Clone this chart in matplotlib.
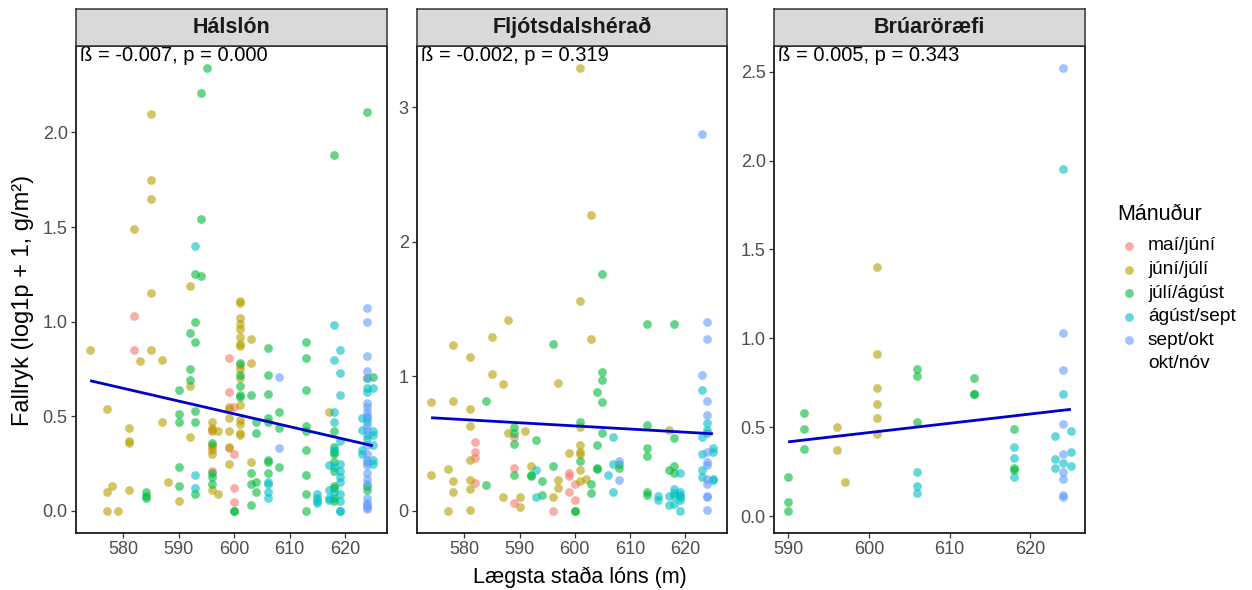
import matplotlib
matplotlib.use("Agg")
import matplotlib.pyplot as plt
import numpy as np

plt.rcParams['font.family'] = ['Liberation Sans', 'DejaVu Sans']

# ---------------- data ----------------
panels = ["Hálslón", "Fljótsdalshérað", "Brúaröræfi"]
months = ["maí/júní", "júní/júlí", "júlí/ágúst", "ágúst/sept", "sept/okt", "okt/nóv"]
month_colors = ["#F8766D", "#B79F00", "#00BA38", "#00BFC4", "#619CFF", "#F564E3"]
stat_labels = ["ß = -0.007, p = 0.000", "ß = -0.002, p = 0.319", "ß = 0.005, p = 0.343"]

# Hálslón: (x = lake level, y = value) per month
hals_0_x = [582, 582, 599, 599, 600, 599, 596, 596, 599, 600, 596, 600, 600]
hals_0_y = [1.03, 0.85, 0.81, 0.63, 0.55, 0.54, 0.42, 0.34, 0.33, 0.30, 0.21, 0.12, 0.045]
hals_1_x = [585, 585, 585, 582, 592, 585, 574, 585, 583, 587, 577, 587, 581, 581, 581, 578, 577, 581,
            577, 579, 588, 590, 592, 592, 596, 596, 596, 596, 596, 596, 596, 597, 597, 599, 599, 599,
            599, 599, 601, 601, 601, 601, 601, 601, 601, 601, 601, 601, 601, 601, 601, 601, 601, 601,
            603, 603, 603, 617]
hals_1_y = [2.10, 1.75, 1.65, 1.49, 1.19, 1.15, 0.85, 0.85, 0.79, 0.80, 0.54, 0.47, 0.44, 0.37, 0.36, 0.13, 0.10, 0.11,
            0.0, 0.0, 0.15, 0.05, 0.66, 0.39, 0.47, 0.44, 0.43, 0.35, 0.32, 0.30, 0.11, 0.09, 0.42, 0.55, 0.49, 0.42,
            0.34, 0.25, 1.11, 1.10, 1.02, 0.99, 0.96, 0.92, 0.88, 0.87, 0.77, 0.75, 0.70, 0.56, 0.48, 0.46, 0.41, 0.40,
            0.91, 0.78, 0.26, 0.52]
hals_2_x = [595, 594, 624, 618, 594, 593, 594, 584, 584, 584, 590, 590, 590, 590, 590, 592, 592, 592,
            593, 593, 593, 593, 593, 596, 596, 596, 596, 601, 601, 601, 601, 601, 600, 600,
            603, 603, 603, 603, 604, 604, 604, 604, 606, 606, 606, 606, 606, 606, 606, 606,
            608, 608, 608, 613, 613, 613, 613, 613, 613, 613, 613, 613,
            618, 618, 618, 618, 618, 618, 618, 618, 618, 618, 624, 624, 624, 625]
hals_2_y = [2.34, 2.21, 2.11, 1.88, 1.54, 1.25, 1.24, 0.10, 0.08, 0.07, 0.64, 0.51, 0.47, 0.23, 0.13, 0.94, 0.75, 0.69,
            1.00, 0.89, 0.53, 0.47, 0.09, 0.36, 0.20, 0.18, 0.14, 0.78, 0.72, 0.66, 0.61, 0.60, 0.0, 0.0,
            0.61, 0.20, 0.14, 0.03, 0.47, 0.41, 0.15, 0.10, 0.86, 0.72, 0.62, 0.49, 0.47, 0.27, 0.26, 0.20,
            0.52, 0.44, 0.23, 0.89, 0.81, 0.64, 0.45, 0.42, 0.32, 0.19, 0.09, 0.0,
            0.42, 0.34, 0.31, 0.30, 0.26, 0.21, 0.13, 0.12, 0.07, 0.05, 0.70, 0.13, 0.11, 0.71]
hals_3_x = [593, 593, 593, 606, 606, 606, 606, 615, 615, 615, 615, 617, 617, 617, 617,
            618, 618, 618, 618, 618, 618, 618, 619, 619, 619, 619, 619, 619, 619, 619, 619, 619, 619, 619,
            623, 623, 623, 623, 624, 624, 624, 624, 624, 624, 624, 625, 625, 625, 625, 625, 625]
hals_3_y = [1.40, 0.19, 0.12, 0.15, 0.14, 0.10, 0.07, 0.09, 0.07, 0.05, 0.04, 0.24, 0.11, 0.07, 0.06,
            0.98, 0.80, 0.52, 0.47, 0.32, 0.23, 0.10, 0.85, 0.73, 0.61, 0.37, 0.25, 0.21, 0.18, 0.15, 0.09, 0.05, 0.0, 0.0,
            0.49, 0.43, 0.32, 0.30, 0.65, 0.63, 0.49, 0.47, 0.40, 0.38, 0.26, 0.65, 0.42, 0.40, 0.35, 0.27, 0.25]
hals_4_x = [608, 608] + [624] * 23
hals_4_y = [0.71, 0.33, 1.07, 1.00, 0.82, 0.74, 0.70, 0.57, 0.55, 0.52, 0.50, 0.45, 0.42, 0.35, 0.30, 0.27,
            0.24, 0.20, 0.17, 0.14, 0.07, 0.04, 0.03, 0.02, 0.01]

# Fljótsdalshérað
flj_0_x = [582, 582, 582, 582, 589, 589, 589, 596, 599, 599, 599, 600, 600]
flj_0_y = [0.51, 0.44, 0.39, 0.21, 0.55, 0.32, 0.06, 0.0, 0.28, 0.26, 0.14, 0.20, 0.08]
flj_1_x = [601, 603, 601, 588, 585, 603, 578, 581, 585, 587, 597, 574, 578, 581, 581, 601, 617, 588, 591,
           581, 601, 601, 601, 601, 601, 602, 599, 574, 577, 578, 578, 581, 581, 581, 577, 590, 590, 587,
           592, 596, 597, 597]
flj_1_y = [3.29, 2.20, 1.56, 1.42, 1.29, 1.28, 1.23, 1.14, 1.02, 0.94, 0.95, 0.81, 0.82, 0.76, 0.63, 0.62, 0.60, 0.58, 0.59,
           0.38, 0.49, 0.44, 0.42, 0.30, 0.22, 0.24, 0.43, 0.27, 0.31, 0.22, 0.14, 0.23, 0.16, 0.01, 0.0, 0.10, 0.03, 0.10,
           0.33, 0.10, 0.23, 0.17]
flj_2_x = [605, 613, 618, 596, 605, 605, 604, 605, 584, 601, 613, 589, 589, 589, 605, 604, 618, 601, 593,
           592, 592, 589, 584, 594, 594, 596, 600, 600, 604, 604, 603, 603, 608, 608, 613, 613, 613, 613,
           617, 618, 618, 624]
flj_2_y = [1.76, 1.39, 1.39, 1.24, 1.03, 0.97, 0.88, 0.81, 0.82, 0.66, 0.64, 0.62, 0.58, 0.50, 0.58, 0.49, 0.54, 0.37, 0.53,
           0.26, 0.27, 0.27, 0.19, 0.22, 0.12, 0.33, 0.0, 0.0, 0.32, 0.31, 0.20, 0.13, 0.35, 0.32, 0.47, 0.41, 0.14, 0.12,
           0.30, 0.33, 0.28, 0.58]
flj_3_x = [623, 624, 607, 593, 593, 606, 607, 607, 615, 615, 617, 617,
           619, 618, 619, 618, 619, 618, 619, 619, 618, 619,
           623, 623, 623, 623, 625, 625, 625, 625, 624]
flj_3_y = [0.90, 0.65, 0.55, 0.30, 0.10, 0.27, 0.35, 0.14, 0.11, 0.08, 0.11, 0.04,
           0.28, 0.16, 0.14, 0.13, 0.12, 0.11, 0.10, 0.08, 0.05, 0.0,
           0.55, 0.42, 0.30, 0.25, 0.47, 0.44, 0.24, 0.23, 0.60]
flj_4_x = [623, 624, 624, 623, 624, 624, 608, 608, 624, 624, 624, 624, 624, 624, 624, 624]
flj_4_y = [2.80, 1.40, 1.28, 1.01, 0.82, 0.71, 0.37, 0.23, 0.44, 0.36, 0.34, 0.24, 0.20, 0.11, 0.10, 0.01]

# Brúaröræfi
bru_0_x, bru_0_y = [], []
bru_1_x = [601, 601, 601, 601, 601, 601, 596, 596, 597]
bru_1_y = [1.40, 0.91, 0.72, 0.63, 0.55, 0.46, 0.50, 0.37, 0.19]
bru_2_x = [590, 590, 590, 592, 592, 592, 606, 606, 606, 613, 613, 613, 618, 618, 618]
bru_2_y = [0.22, 0.08, 0.03, 0.58, 0.49, 0.38, 0.83, 0.79, 0.53, 0.78, 0.69, 0.69, 0.49, 0.27, 0.26]
bru_3_x = [606, 606, 606, 618, 618, 618, 624, 624, 623, 623, 623, 625, 625, 625, 624]
bru_3_y = [0.25, 0.17, 0.13, 0.39, 0.33, 0.22, 1.95, 0.69, 0.45, 0.32, 0.27, 0.48, 0.36, 0.28, 0.30]
bru_4_x = [624, 624, 624, 624, 624, 624, 624, 624, 624]
bru_4_y = [2.52, 1.03, 0.82, 0.52, 0.35, 0.25, 0.21, 0.12, 0.11]

panel_data = [
    [(hals_0_x, hals_0_y), (hals_1_x, hals_1_y), (hals_2_x, hals_2_y), (hals_3_x, hals_3_y), (hals_4_x, hals_4_y)],
    [(flj_0_x, flj_0_y), (flj_1_x, flj_1_y), (flj_2_x, flj_2_y), (flj_3_x, flj_3_y), (flj_4_x, flj_4_y)],
    [(bru_0_x, bru_0_y), (bru_1_x, bru_1_y), (bru_2_x, bru_2_y), (bru_3_x, bru_3_y), (bru_4_x, bru_4_y)],
]

# regression line endpoints (x, fitted y)
fit_x = [[574, 625], [574, 625], [590, 625]]
fit_y = [[0.688, 0.344], [0.692, 0.573], [0.418, 0.601]]

y_ticks = [[0.0, 0.5, 1.0, 1.5, 2.0], [0, 1, 2, 3], [0.0, 0.5, 1.0, 1.5, 2.0, 2.5]]
y_ticklabels = [["0.0", "0.5", "1.0", "1.5", "2.0"], ["0", "1", "2", "3"],
                ["0.0", "0.5", "1.0", "1.5", "2.0", "2.5"]]
x_ticks = [[580, 590, 600, 610, 620], [580, 590, 600, 610, 620], [590, 600, 610, 620]]

x_label = "Lægsta staða lóns (m)"
y_label = "Fallryk (log1p + 1, g/m²)"
legend_title = "Mánuður"

# ---------------- layout ----------------
W, H = 1252, 590
fig = plt.figure(figsize=(W / 100, H / 100), dpi=100)


def fr(l, t, r, b):
    return [l / W, 1 - b / H, (r - l) / W, (b - t) / H]


lefts = [76, 417, 774]
rights = [387, 727, 1085]
top, bottom = 46, 533
strip_top = 9

for i in range(3):
    ax = fig.add_axes(fr(lefts[i], top, rights[i], bottom))
    allx, ally = [], []
    for m, (xs, ys) in enumerate(panel_data[i]):
        if len(xs):
            ax.scatter(xs, ys, s=40, color=month_colors[m], alpha=0.6, linewidths=0, zorder=2)
            allx += list(xs)
            ally += list(ys)
    ax.plot(fit_x[i], fit_y[i], color="#0000CD", lw=2, zorder=3, solid_capstyle="butt")
    xmin, xmax = min(allx), max(allx)
    ymin, ymax = min(ally), max(ally)
    ax.set_xlim(xmin - 0.05 * (xmax - xmin), xmax + 0.05 * (xmax - xmin))
    ax.set_ylim(ymin - 0.05 * (ymax - ymin), ymax + 0.05 * (ymax - ymin))
    ax.set_xticks(x_ticks[i])
    ax.set_yticks(y_ticks[i])
    ax.set_yticklabels(y_ticklabels[i])
    ax.tick_params(axis="both", direction="out", length=3.5, width=0.9, color="#333333",
                   labelsize=13, labelcolor="#4D4D4D", pad=2.5)
    for sp in ax.spines.values():
        sp.set_linewidth(1.3)
        sp.set_color("#1A1A1A")
    ax.annotate(stat_labels[i], xy=(0, 1), xycoords="axes fraction", xytext=(3, 0),
                textcoords="offset points", ha="left", va="top", fontsize=14.5, color="black")

    sax = fig.add_axes(fr(lefts[i], strip_top, rights[i], top))
    sax.set_xticks([])
    sax.set_yticks([])
    sax.set_facecolor("#D9D9D9")
    for sp in sax.spines.values():
        sp.set_linewidth(1.1)
        sp.set_color("#333333")
    sax.text(0.5, 0.5, panels[i], transform=sax.transAxes, ha="center", va="center",
             fontsize=15.5, fontweight="bold", color="#1A1A1A")

fig.text(580 / W, 1 - 577 / H, x_label, ha="center", va="center", fontsize=15.5)
fig.text(23 / W, 1 - 300 / H, y_label, ha="center", va="center", fontsize=17, rotation=90)

# legend
lax = fig.add_axes([0, 0, 1, 1])
lax.set_xlim(0, W)
lax.set_ylim(H, 0)
lax.axis("off")
lax.text(1117, 215, legend_title, ha="left", va="center", fontsize=15.5)
for k, lab in enumerate(months):
    yy = 246 + k * 23.6
    if k < 5:
        lax.scatter([1129], [yy], s=40, color=month_colors[k], alpha=0.6, linewidths=0)
    lax.text(1148, yy, lab, ha="left", va="center", fontsize=13.8)

fig.savefig("out.png", dpi=100)
